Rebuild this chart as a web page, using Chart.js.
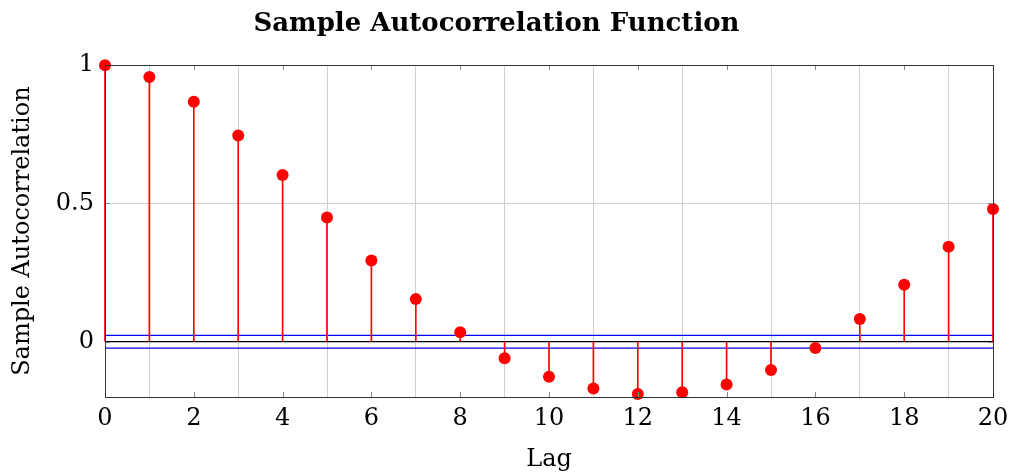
<!DOCTYPE html>
<html>
<head>
<meta charset="utf-8">
<script src="https://cdn.jsdelivr.net/npm/chart.js@4/dist/chart.umd.min.js"></script>
<style>
  html, body { margin: 0; padding: 0; background: #fff; }
  #wrap { width: 1012px; height: 474px; }
</style>
</head>
<body>
<div id="wrap"><canvas id="acfChart"></canvas></div>
<script>
const lags = [0, 1, 2, 3, 4, 5, 6, 7, 8, 9, 10, 11, 12, 13, 14, 15, 16, 17, 18, 19, 20];
const acfValues = [1, 0.957, 0.868, 0.746, 0.603, 0.449, 0.294, 0.154, 0.034, -0.060, -0.127,
    -0.169, -0.189, -0.183, -0.155, -0.102, -0.023, 0.082, 0.206, 0.343, 0.480];
const confBound = 0.023;
const xTicks = [0, 2, 4, 6, 8, 10, 12, 14, 16, 18, 20];
const yTicks = [0, 0.5, 1];

const serif = "'DejaVu Serif', serif";

// box around the plot + little inner tick marks like pgfplots
const boxPlugin = {
    id: 'boxPlugin',
    afterDatasetsDraw(chart) {
        const { ctx, chartArea: a, scales } = chart;
        ctx.save();
        ctx.strokeStyle = '#888';
        ctx.lineWidth = 1;
        ctx.beginPath();
        scales.x.ticks.forEach(t => {
            const px = Math.round(scales.x.getPixelForValue(t.value)) + 0.5;
            ctx.moveTo(px, a.top); ctx.lineTo(px, a.top + 5);
            ctx.moveTo(px, a.bottom); ctx.lineTo(px, a.bottom - 5);
        });
        scales.y.ticks.forEach(t => {
            const py = Math.round(scales.y.getPixelForValue(t.value)) + 0.5;
            ctx.moveTo(a.left, py); ctx.lineTo(a.left + 5, py);
            ctx.moveTo(a.right, py); ctx.lineTo(a.right - 5, py);
        });
        ctx.stroke();
        ctx.strokeStyle = '#333';
        ctx.strokeRect(Math.round(a.left) + 0.5, Math.round(a.top) + 0.5,
            Math.round(a.right - a.left), Math.round(a.bottom - a.top));
        ctx.restore();
    }
};

const ctx = document.getElementById('acfChart').getContext('2d');
new Chart(ctx, {
    data: {
        datasets: [
            {
                type: 'scatter',
                label: 'ACF',
                data: lags.map((l, i) => ({ x: l, y: acfValues[i] })),
                pointRadius: 6,
                pointHoverRadius: 6,
                pointBackgroundColor: '#ff0000',
                pointBorderWidth: 0,
                clip: false,
                order: 0
            },
            {
                type: 'bar',
                label: 'stems',
                data: lags.map((l, i) => ({ x: l, y: [0, acfValues[i]] })),
                backgroundColor: '#ff0000',
                barThickness: 1,
                clip: false,
                order: 1
            },
            {
                type: 'line',
                label: 'zero',
                data: [{ x: 0, y: 0 }, { x: 20, y: 0 }],
                borderColor: '#000',
                borderWidth: 1.2,
                pointRadius: 0,
                order: 2
            },
            {
                type: 'line',
                label: 'upper',
                data: [{ x: 0, y: confBound }, { x: 20, y: confBound }],
                borderColor: '#0000ff',
                borderWidth: 1.2,
                pointRadius: 0,
                order: 2
            },
            {
                type: 'line',
                label: 'lower',
                data: [{ x: 0, y: -confBound }, { x: 20, y: -confBound }],
                borderColor: '#0000ff',
                borderWidth: 1.2,
                pointRadius: 0,
                order: 2
            }
        ]
    },
    options: {
        responsive: true,
        maintainAspectRatio: false,
        animation: false,
        layout: { padding: { left: 0, right: 19, top: 0, bottom: 0 } },
        scales: {
            x: {
                type: 'linear',
                min: 0,
                max: 20,
                offset: false,
                afterBuildTicks: s => { s.ticks = xTicks.map(v => ({ value: v })); },
                afterFit: s => { s.height = 77; s.paddingLeft = 0; s.paddingRight = 0; },
                grid: { color: '#cfcfcf', drawTicks: false },
                border: { display: false },
                ticks: { color: '#000', padding: 7, maxRotation: 0, font: { family: serif, size: 24 } },
                title: {
                    display: true,
                    text: 'Lag',
                    color: '#000',
                    padding: { top: 0, bottom: 0 },
                    font: { family: serif, size: 24 }
                }
            },
            y: {
                min: -0.2,
                max: 1,
                afterBuildTicks: s => { s.ticks = yTicks.map(v => ({ value: v })); },
                afterFit: s => { s.width = 105; },
                grid: { color: '#cfcfcf', drawTicks: false },
                border: { display: false },
                ticks: {
                    color: '#000',
                    padding: 11,
                    font: { family: serif, size: 24 },
                    callback: v => String(v)
                },
                title: {
                    display: true,
                    text: 'Sample Autocorrelation',
                    color: '#000',
                    padding: { top: 8, bottom: 0 },
                    font: { family: serif, size: 24 }
                }
            }
        },
        plugins: {
            legend: { display: false },
            tooltip: { enabled: false },
            title: {
                display: true,
                text: 'Sample Autocorrelation Function',
                color: '#000',
                padding: { top: 9, bottom: 25 },
                font: { family: serif, size: 26, weight: 'bold' }
            }
        }
    },
    plugins: [boxPlugin]
});
</script>
</body>
</html>
